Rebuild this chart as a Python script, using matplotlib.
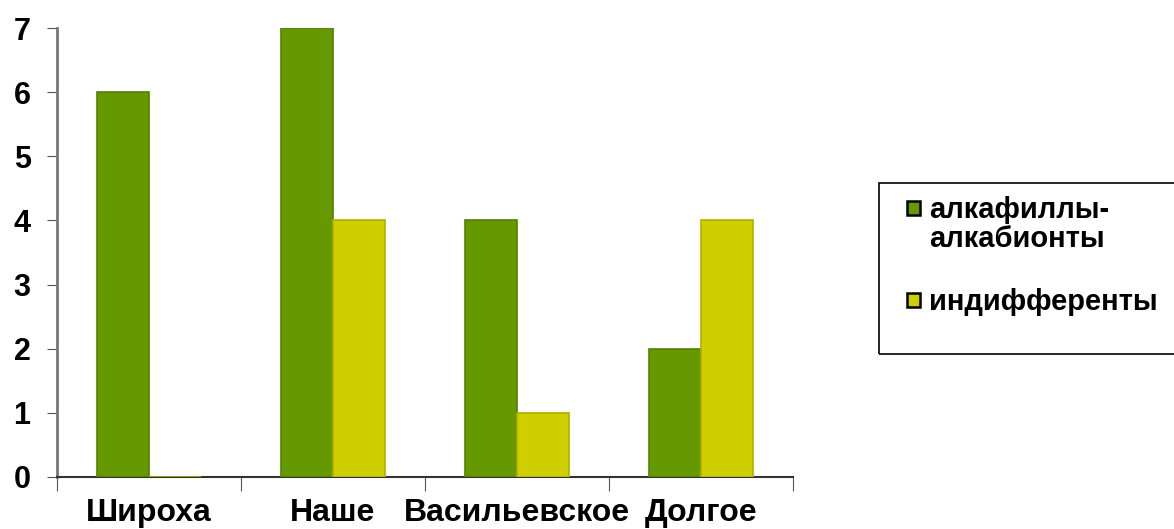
import numpy as np
import matplotlib.pyplot as plt
from matplotlib.patches import Rectangle

plt.rcParams['font.family'] = ['Liberation Sans', 'DejaVu Sans']

sites = ['Широха', 'Наше', 'Васильевское', 'Долгое']
alkaphiles = [6, 7, 4, 2]
indifferent = [0, 4, 1, 4]
series_names = ['алкафиллы-\nалкабионты', 'индифференты']

green = '#669900'
yellow = '#cfcf00'

fig = plt.figure(figsize=(11.74, 5.29), dpi=100)
ax = fig.add_axes([57/1174, 1 - 477/529, (793-57)/1174, (477-28)/529])

x = np.arange(len(sites))
w = 0.283
b1 = ax.bar(x - w/2, alkaphiles, w, color=green, edgecolor='#557f00', linewidth=1.2, zorder=3)
b2 = ax.bar(x + w/2, indifferent, w, color=yellow, edgecolor='#b0b000', linewidth=1.2, zorder=3)

ax.set_xlim(-0.5, len(sites) - 0.5)
ax.set_ylim(0, 7)
ax.set_yticks(range(0, 8))
ax.set_xticks(np.arange(-0.5, len(sites), 1.0))
ax.set_xticklabels([])
ax.set_xticks(x, minor=True)
ax.set_xticklabels(sites, minor=True, fontsize=23, fontweight='bold')
ax.tick_params(axis='x', which='minor', length=0, pad=15)
ax.tick_params(axis='x', which='major', length=10, color='#555555', direction='out')
ax.tick_params(axis='y', length=7, color='#555555', labelsize=22, pad=12)
for lab in ax.get_yticklabels():
    lab.set_fontweight('bold')

for s in ['top', 'right']:
    ax.spines[s].set_visible(False)
ax.spines['left'].set_color('#777777')
ax.spines['left'].set_linewidth(2)
ax.spines['bottom'].set_color('#333333')
ax.spines['bottom'].set_linewidth(1.5)

# legend drawn by hand: box runs off the right edge, swatch sits at first line
H = 529.0
fig.patches.append(Rectangle((879/1174, 1 - 354/H), 0.3, 171/H,
                             transform=fig.transFigure, fill=False,
                             edgecolor='black', linewidth=1.2))
for name, col, ysw, ytxt in [(series_names[0], green, 201, 196),
                             (series_names[1], yellow, 293, 288)]:
    fig.patches.append(Rectangle((907/1174, 1 - (ysw + 14)/H), 13/1174, 14/H,
                                 transform=fig.transFigure, facecolor=col,
                                 edgecolor='black', linewidth=1.8))
    fig.text(929/1174, 1 - ytxt/H, name, fontsize=21, fontweight='bold',
             va='top', ha='left', linespacing=1.05)

fig.savefig('out.png', dpi=100)
